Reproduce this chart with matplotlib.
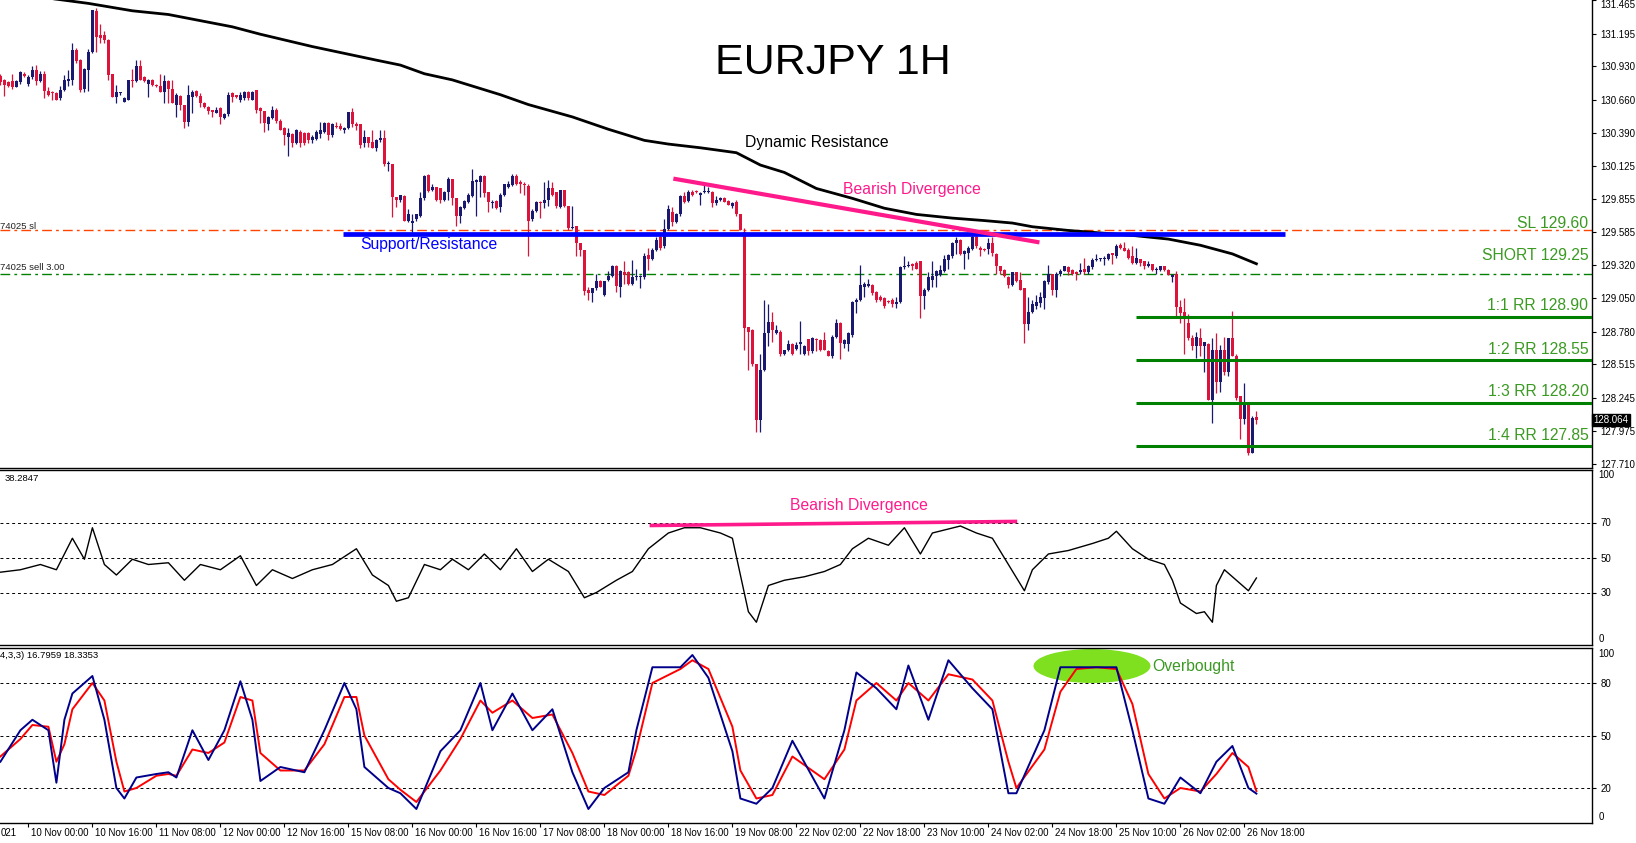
import matplotlib.pyplot as plt
import numpy as np
from matplotlib.patches import Ellipse
from matplotlib.transforms import blended_transform_factory

plt.rcParams["font.family"] = ["Liberation Sans", "DejaVu Sans"]

# Velas EURJPY H1, da barra 0 (9 Nov 17:00) ate a barra 314 (26 Nov 21:00)
abertura = [
    130.85, 130.82, 130.80, 130.81, 130.76, 130.80, 130.87, 130.79, 130.84, 130.90,
    130.81, 130.87, 130.73, 130.72, 130.71, 130.67, 130.74, 130.81, 130.82, 131.06,
    130.98, 130.75, 130.90, 131.05, 131.38, 131.18, 131.18, 131.14, 130.87, 130.68,
    130.71, 130.64, 130.66, 130.82, 130.81, 130.93, 130.84, 130.79, 130.82, 130.78,
    130.77, 130.72, 130.81, 130.75, 130.62, 130.69, 130.62, 130.48, 130.68, 130.73,
    130.69, 130.63, 130.60, 130.58, 130.55, 130.59, 130.51, 130.54, 130.71, 130.70,
    130.66, 130.67, 130.72, 130.66, 130.74, 130.59, 130.57, 130.46, 130.51, 130.58,
    130.49, 130.43, 130.36, 130.38, 130.31, 130.40, 130.39, 130.39, 130.33, 130.34,
    130.38, 130.40, 130.47, 130.37, 130.45, 130.45, 130.41, 130.43, 130.56, 130.46,
    130.46, 130.31, 130.36, 130.32, 130.27, 130.33, 130.35, 130.14, 130.14, 129.87,
    129.85, 129.88, 129.68, 129.66, 129.69, 129.72, 129.86, 130.05, 129.93, 129.95,
    129.94, 129.85, 129.91, 130.02, 129.86, 129.72, 129.78, 129.83, 129.88, 129.99,
    129.99, 130.04, 129.91, 129.82, 129.84, 129.79, 129.89, 129.95, 129.97, 130.04,
    129.99, 129.98, 129.96, 129.69, 129.76, 129.83, 129.82, 129.85, 129.94, 129.91,
    129.79, 129.93, 129.80, 129.62, 129.64, 129.50, 129.44, 129.12, 129.09, 129.13,
    129.19, 129.08, 129.20, 129.23, 129.31, 129.14, 129.26, 129.26, 129.17, 129.22,
    129.22, 129.22, 129.40, 129.37, 129.44, 129.55, 129.47, 129.61, 129.75, 129.67,
    129.73, 129.88, 129.84, 129.91, 129.92, 129.89, 129.91, 129.91, 129.91, 129.82,
    129.85, 129.86, 129.84, 129.80, 129.83, 129.73, 129.59, 128.82, 128.79, 128.52,
    128.06, 128.47, 128.77, 128.86, 128.77, 128.78, 128.60, 128.63, 128.68, 128.64,
    128.68, 128.60, 128.72, 128.62, 128.72, 128.71, 128.71, 128.62, 128.58, 128.74,
    128.85, 128.68, 128.68, 128.75, 129.02, 129.04, 129.14, 129.15, 129.16, 129.10,
    129.06, 129.05, 129.03, 129.04, 129.00, 129.02, 129.30, 129.31, 129.33, 129.34,
    129.35, 129.07, 129.12, 129.20, 129.23, 129.24, 129.27, 129.36, 129.39, 129.50,
    129.52, 129.41, 129.42, 129.45, 129.55, 129.46, 129.45, 129.45, 129.50, 129.41,
    129.31, 129.28, 129.22, 129.16, 129.26, 129.20, 129.13, 128.84, 128.94, 128.99,
    129.01, 129.05, 129.18, 129.25, 129.12, 129.25, 129.27, 129.30, 129.28, 129.26,
    129.26, 129.29, 129.26, 129.30, 129.36, 129.37, 129.37, 129.37, 129.42, 129.39,
    129.48, 129.46, 129.44, 129.39, 129.34, 129.37, 129.35, 129.31, 129.33, 129.28,
    129.28, 129.31, 129.28, 129.22, 129.25, 128.98, 128.94, 128.85, 128.73, 128.66,
    128.73, 128.66, 128.68, 128.23, 128.63, 128.37, 128.63, 128.45, 128.73, 128.58,
    128.26, 128.07, 128.21, 127.80, 128.09,
]
maxima = [
    130.87, 130.83, 130.81, 130.87, 130.82, 130.89, 130.88, 130.86, 130.93, 130.94,
    130.89, 130.89, 130.76, 130.73, 130.72, 130.77, 130.86, 130.90, 131.12, 131.08,
    130.99, 130.92, 131.07, 131.39, 131.40, 131.27, 131.22, 131.15, 130.87, 130.78,
    130.72, 130.68, 130.82, 130.91, 130.98, 130.98, 130.85, 130.83, 130.83, 130.79,
    130.87, 130.86, 130.82, 130.82, 130.71, 130.70, 130.62, 130.78, 130.74, 130.74,
    130.71, 130.64, 130.61, 130.58, 130.60, 130.60, 130.55, 130.72, 130.72, 130.70,
    130.72, 130.73, 130.73, 130.73, 130.74, 130.60, 130.57, 130.53, 130.61, 130.59,
    130.50, 130.44, 130.43, 130.39, 130.42, 130.41, 130.40, 130.40, 130.37, 130.41,
    130.48, 130.48, 130.48, 130.47, 130.48, 130.47, 130.44, 130.56, 130.59, 130.48,
    130.46, 130.41, 130.36, 130.41, 130.34, 130.41, 130.41, 130.16, 130.14, 129.87,
    129.89, 129.89, 129.77, 129.73, 129.73, 129.91, 130.05, 130.06, 129.98, 129.95,
    129.94, 129.92, 130.03, 130.02, 129.86, 129.80, 129.85, 129.90, 130.10, 130.02,
    130.05, 130.05, 129.91, 129.85, 129.85, 129.90, 129.98, 130.00, 130.06, 130.06,
    130.01, 129.99, 129.98, 129.77, 129.84, 129.84, 129.99, 130.01, 129.99, 129.91,
    129.93, 129.93, 129.80, 129.80, 129.64, 129.50, 129.44, 129.14, 129.13, 129.25,
    129.20, 129.19, 129.27, 129.32, 129.32, 129.28, 129.35, 129.27, 129.36, 129.29,
    129.24, 129.42, 129.46, 129.46, 129.55, 129.56, 129.69, 129.81, 129.79, 129.74,
    129.89, 129.91, 129.93, 129.93, 129.93, 129.91, 129.97, 129.95, 129.92, 129.88,
    129.87, 129.87, 129.85, 129.83, 129.85, 129.73, 129.62, 128.82, 128.80, 128.52,
    128.60, 129.04, 129.00, 128.94, 128.83, 128.79, 128.63, 128.71, 128.69, 128.70,
    128.87, 128.67, 128.72, 128.74, 128.73, 128.72, 128.78, 128.63, 128.75, 128.88,
    128.86, 128.72, 128.78, 129.03, 129.05, 129.32, 129.18, 129.21, 129.17, 129.11,
    129.08, 129.06, 129.04, 129.05, 129.06, 129.31, 129.39, 129.35, 129.34, 129.35,
    129.35, 129.13, 129.26, 129.35, 129.28, 129.32, 129.40, 129.41, 129.51, 129.55,
    129.53, 129.44, 129.47, 129.56, 129.56, 129.47, 129.46, 129.54, 129.55, 129.42,
    129.31, 129.29, 129.23, 129.26, 129.26, 129.26, 129.13, 129.06, 129.04, 129.08,
    129.10, 129.20, 129.32, 129.25, 129.26, 129.29, 129.31, 129.31, 129.29, 129.27,
    129.34, 129.38, 129.32, 129.38, 129.41, 129.38, 129.39, 129.42, 129.42, 129.49,
    129.50, 129.51, 129.46, 129.47, 129.46, 129.37, 129.35, 129.35, 129.33, 129.30,
    129.31, 129.31, 129.29, 129.25, 129.27, 129.04, 129.05, 128.92, 128.75, 128.78,
    128.81, 128.70, 128.69, 128.73, 128.77, 128.67, 128.74, 128.73, 128.95, 128.60,
    128.26, 128.36, 128.21, 128.10, 128.14,
]
minima = [
    130.78, 130.69, 130.76, 130.75, 130.76, 130.79, 130.84, 130.77, 130.83, 130.78,
    130.80, 130.67, 130.69, 130.66, 130.66, 130.66, 130.73, 130.77, 130.78, 130.96,
    130.72, 130.72, 130.73, 131.04, 131.05, 131.12, 131.12, 130.82, 130.68, 130.63,
    130.70, 130.64, 130.66, 130.76, 130.80, 130.82, 130.80, 130.68, 130.77, 130.76,
    130.72, 130.63, 130.63, 130.63, 130.52, 130.58, 130.43, 130.45, 130.55, 130.68,
    130.60, 130.59, 130.54, 130.52, 130.55, 130.46, 130.50, 130.53, 130.64, 130.67,
    130.64, 130.66, 130.66, 130.66, 130.55, 130.47, 130.40, 130.41, 130.50, 130.47,
    130.41, 130.29, 130.20, 130.28, 130.30, 130.28, 130.29, 130.31, 130.31, 130.33,
    130.35, 130.39, 130.33, 130.36, 130.43, 130.41, 130.39, 130.42, 130.44, 130.41,
    130.27, 130.28, 130.28, 130.27, 130.24, 130.32, 130.12, 130.08, 129.71, 129.79,
    129.83, 129.68, 129.67, 129.59, 129.68, 129.71, 129.85, 129.91, 129.92, 129.84,
    129.82, 129.84, 129.85, 129.81, 129.64, 129.66, 129.77, 129.82, 129.87, 129.72,
    129.87, 129.87, 129.75, 129.78, 129.77, 129.75, 129.88, 129.94, 129.96, 129.97,
    129.90, 129.89, 129.39, 129.68, 129.75, 129.70, 129.78, 129.80, 129.88, 129.78,
    129.78, 129.79, 129.60, 129.61, 129.39, 129.39, 129.08, 129.04, 129.02, 129.12,
    129.14, 129.07, 129.19, 129.22, 129.10, 129.06, 129.17, 129.16, 129.16, 129.20,
    129.13, 129.21, 129.28, 129.36, 129.43, 129.44, 129.46, 129.60, 129.64, 129.66,
    129.72, 129.82, 129.83, 129.88, 129.90, 129.81, 129.90, 129.90, 129.79, 129.81,
    129.84, 129.83, 129.81, 129.78, 129.72, 129.60, 128.63, 128.47, 128.50, 127.97,
    127.97, 128.46, 128.66, 128.70, 128.76, 128.58, 128.59, 128.62, 128.59, 128.63,
    128.60, 128.59, 128.59, 128.61, 128.62, 128.62, 128.63, 128.58, 128.57, 128.73,
    128.56, 128.65, 128.62, 128.74, 128.93, 129.03, 129.06, 129.14, 129.08, 129.02,
    129.03, 128.97, 129.01, 128.98, 128.97, 129.01, 129.29, 129.30, 129.28, 129.29,
    128.89, 128.96, 129.11, 129.14, 129.14, 129.23, 129.26, 129.29, 129.38, 129.41,
    129.40, 129.29, 129.37, 129.44, 129.46, 129.39, 129.43, 129.41, 129.39, 129.25,
    129.25, 129.22, 129.13, 129.15, 129.18, 129.12, 128.69, 128.79, 128.93, 128.96,
    128.98, 128.96, 129.17, 129.08, 129.06, 129.23, 129.27, 129.24, 129.24, 129.20,
    129.25, 129.25, 129.25, 129.29, 129.35, 129.35, 129.32, 129.36, 129.33, 129.38,
    129.45, 129.43, 129.37, 129.33, 129.33, 129.31, 129.29, 129.30, 129.27, 129.25,
    129.27, 129.27, 129.24, 129.18, 128.90, 128.85, 128.60, 128.71, 128.63, 128.57,
    128.58, 128.45, 128.23, 128.04, 128.28, 128.29, 128.43, 128.42, 128.58, 128.23,
    127.91, 128.03, 127.78, 127.80, 128.03,
]
fechamento = [
    130.80, 130.78, 130.77, 130.76, 130.81, 130.88, 130.85, 130.84, 130.90, 130.81,
    130.87, 130.73, 130.70, 130.71, 130.66, 130.74, 130.82, 130.83, 131.06, 130.97,
    130.74, 130.91, 131.05, 131.39, 131.17, 131.16, 131.14, 130.86, 130.68, 130.72,
    130.71, 130.67, 130.82, 130.81, 130.93, 130.82, 130.81, 130.82, 130.78, 130.77,
    130.72, 130.81, 130.75, 130.63, 130.70, 130.62, 130.48, 130.70, 130.72, 130.69,
    130.63, 130.60, 130.57, 130.56, 130.58, 130.52, 130.54, 130.70, 130.68, 130.68,
    130.70, 130.72, 130.67, 130.72, 130.58, 130.57, 130.47, 130.52, 130.58, 130.49,
    130.41, 130.37, 130.39, 130.31, 130.41, 130.31, 130.31, 130.33, 130.36, 130.40,
    130.41, 130.47, 130.37, 130.46, 130.44, 130.42, 130.43, 130.56, 130.46, 130.45,
    130.29, 130.36, 130.31, 130.27, 130.33, 130.35, 130.14, 130.15, 129.87, 129.85,
    129.89, 129.68, 129.73, 129.68, 129.73, 129.86, 130.04, 129.92, 129.95, 129.85,
    129.85, 129.91, 130.02, 129.86, 129.72, 129.79, 129.84, 129.89, 130.00, 130.01,
    130.04, 129.90, 129.83, 129.82, 129.78, 129.89, 129.98, 129.98, 130.04, 129.98,
    129.98, 129.97, 129.68, 129.76, 129.83, 129.82, 129.85, 129.94, 129.89, 129.80,
    129.93, 129.80, 129.62, 129.63, 129.50, 129.44, 129.11, 129.09, 129.13, 129.19,
    129.14, 129.19, 129.23, 129.31, 129.15, 129.27, 129.24, 129.17, 129.22, 129.23,
    129.23, 129.39, 129.37, 129.44, 129.52, 129.46, 129.61, 129.77, 129.67, 129.73,
    129.88, 129.83, 129.91, 129.89, 129.91, 129.90, 129.92, 129.92, 129.82, 129.85,
    129.86, 129.83, 129.81, 129.82, 129.73, 129.60, 128.81, 128.78, 128.52, 128.06,
    128.47, 128.77, 128.86, 128.79, 128.79, 128.60, 128.63, 128.68, 128.60, 128.67,
    128.70, 128.66, 128.62, 128.73, 128.71, 128.63, 128.63, 128.58, 128.74, 128.85,
    128.69, 128.71, 128.77, 129.02, 129.04, 129.16, 129.17, 129.17, 129.09, 129.04,
    129.04, 128.99, 129.02, 129.00, 129.02, 129.30, 129.31, 129.32, 129.31, 129.29,
    129.07, 129.12, 129.22, 129.23, 129.27, 129.28, 129.37, 129.40, 129.50, 129.52,
    129.41, 129.43, 129.46, 129.55, 129.47, 129.44, 129.44, 129.50, 129.42, 129.31,
    129.27, 129.23, 129.16, 129.26, 129.19, 129.12, 128.84, 128.94, 129.00, 129.02,
    129.06, 129.19, 129.25, 129.12, 129.25, 129.27, 129.31, 129.26, 129.25, 129.25,
    129.28, 129.26, 129.31, 129.36, 129.37, 129.37, 129.38, 129.41, 129.40, 129.47,
    129.46, 129.43, 129.38, 129.34, 129.38, 129.34, 129.31, 129.33, 129.28, 129.29,
    129.31, 129.28, 129.24, 129.24, 128.98, 128.93, 128.90, 128.73, 128.66, 128.74,
    128.66, 128.70, 128.23, 128.63, 128.37, 128.63, 128.45, 128.73, 128.58, 128.24,
    128.07, 128.21, 127.80, 128.08, 128.064,
]

# Media movel ("Dynamic Resistance"), lida em alguns pontos
mm_barras = [0, 15, 22, 33, 42, 50, 58, 65, 78, 94, 100, 106, 113, 119, 125, 132,
             143, 152, 161, 167, 175, 184, 190, 196, 204, 213, 221, 229, 238, 246,
             253, 258, 267, 275, 283, 292, 300, 308, 314]
mm_valores = [131.53, 131.47, 131.44, 131.38, 131.35, 131.30, 131.25, 131.19, 131.09,
              130.98, 130.94, 130.87, 130.82, 130.76, 130.70, 130.62, 130.52, 130.42,
              130.33, 130.30, 130.27, 130.23, 130.13, 130.07, 129.94, 129.86, 129.78,
              129.73, 129.70, 129.68, 129.66, 129.63, 129.60, 129.58, 129.56, 129.53,
              129.48, 129.41, 129.33]

# RSI(14)
rsi_barras = [0, 5, 10, 14, 18, 21, 23, 26, 29, 33, 37, 42, 46, 50, 55, 60, 64, 68, 73, 78,
              83, 89, 93, 97, 99, 102, 106, 110, 113, 117, 121, 125, 129, 133, 137, 142,
              146, 149, 154, 158, 162, 167, 171, 175, 180, 183, 185, 187, 189, 192, 196,
              201, 206, 210, 213, 217, 222, 226, 230, 233, 240, 244, 248, 252, 256, 258,
              262, 267, 273, 277, 279, 283, 287, 291, 293, 295, 299, 301, 303, 304, 306,
              309, 312, 314]
rsi_valores = [41.6, 43, 46, 43, 61, 49, 67, 46, 40, 49, 46, 47, 37, 46, 43, 51, 34, 43, 38,
               43, 46, 55, 40, 34, 25, 27, 46, 43, 49, 43, 52, 43, 55, 42, 49, 42, 27, 30,
               37, 42, 55, 64, 67, 67, 64, 61, 40, 19, 13, 34, 37, 39, 42, 46, 55, 61, 57,
               67, 52, 64, 68, 64, 61, 46, 31, 43, 52, 54, 58, 61, 65, 55, 49, 46, 37, 24,
               18, 19, 13, 34, 43, 37, 31, 38.28]

# Estocastico (14,3,3): linha principal (azul) e sinal (vermelha)
sto_barras = [0, 5, 8, 12, 14, 16, 18, 23, 26, 29, 31, 34, 39, 42, 44, 48, 52, 56, 60, 63,
              65, 70, 76, 81, 86, 89, 91, 97, 100, 104, 110, 115, 120, 123, 128, 133, 138,
              143, 147, 151, 157, 159, 163, 170, 173, 177, 183, 185, 189, 193, 198, 206,
              211, 214, 219, 224, 227, 232, 237, 243, 248, 252, 254, 261, 265, 269, 274,
              279, 283, 287, 291, 295, 300, 304, 308, 312, 314]
sto_k = [35, 53, 59, 53, 23, 59, 74, 84, 59, 20, 14, 26, 28, 29, 26, 53, 36, 53, 81, 59,
         24, 32, 29, 53, 80, 65, 32, 20, 17, 8, 41, 53, 80, 53, 74, 53, 65, 29, 8, 20,
         29, 53, 89, 89, 96, 83, 41, 14, 11, 20, 47, 14, 53, 86, 77, 65, 90, 59, 93, 77,
         65, 17, 17, 53, 89, 89, 89, 89, 53, 14, 11, 26, 17, 35, 44, 20, 16.8]
sto_d = [38, 48, 56, 55, 35, 45, 65, 80, 70, 35, 18, 20, 27, 28, 27, 42, 40, 46, 72, 70,
         40, 30, 30, 45, 72, 72, 50, 25, 19, 12, 30, 48, 70, 63, 70, 60, 62, 40, 18, 16,
         27, 42, 80, 88, 93, 88, 55, 30, 14, 16, 38, 25, 42, 70, 80, 70, 80, 70, 85, 82,
         70, 35, 20, 42, 75, 88, 89, 88, 68, 28, 14, 20, 18, 28, 40, 32, 18.3]

precos_eixo = [131.465, 131.195, 130.930, 130.660, 130.390, 130.125, 129.855, 129.585,
               129.320, 129.050, 128.780, 128.515, 128.245, 127.975, 127.710]
rotulos_tempo = ["10 Nov 00:00", "10 Nov 16:00", "11 Nov 08:00", "12 Nov 00:00",
                 "12 Nov 16:00", "15 Nov 08:00", "16 Nov 00:00", "16 Nov 16:00",
                 "17 Nov 08:00", "18 Nov 00:00", "18 Nov 16:00", "19 Nov 08:00",
                 "22 Nov 02:00", "22 Nov 18:00", "23 Nov 10:00", "24 Nov 02:00",
                 "24 Nov 18:00", "25 Nov 10:00", "26 Nov 02:00", "26 Nov 18:00"]
barras_tempo = [7 + 16 * k for k in range(len(rotulos_tempo))]

niveis_rr = [128.90, 128.55, 128.20, 127.85]
textos_rr = ["1:1 RR 128.90", "1:2 RR 128.55", "1:3 RR 128.20", "1:4 RR 127.85"]

AZUL_VELA = "#191970"
VERMELHO_VELA = "#dc143c"
ROSA = "#ff1a8c"
VERDE = "#008000"
VERDE_TXT = "#3a9a22"

W, H = 1636, 843
fig = plt.figure(figsize=(W / 100, H / 100), dpi=100)


def criar_eixo(topo, base):
    return fig.add_axes([0, 1 - base / H, 1592 / W, (base - topo) / H])


ax_p = criar_eixo(0, 468)
ax_r = criar_eixo(470, 645)
ax_s = criar_eixo(648, 823)

for ax in (ax_p, ax_r, ax_s):
    ax.set_xlim(-0.1, 397.9)
    ax.spines["left"].set_visible(False)
    for lado in ("right", "bottom", "top"):
        ax.spines[lado].set_linewidth(1.0)
    ax.yaxis.tick_right()
    ax.tick_params(axis="y", direction="out", length=3, width=0.8, pad=3,
                   labelsize=7)
    ax.set_xticks([])
ax_p.spines["top"].set_visible(False)

# ---- painel de precos ----
o = np.array(abertura)
hi = np.array(maxima)
lo = np.array(minima)
c = np.array(fechamento)
idx = np.arange(len(c))
cores = np.where(c >= o, AZUL_VELA, VERMELHO_VELA)

ax_p.vlines(idx, lo, hi, colors=cores, linewidth=0.9, zorder=3)
corpo = np.maximum(np.abs(c - o), 0.008)
ax_p.bar(idx, corpo, bottom=np.minimum(o, c), width=0.78, color=cores,
         linewidth=0, zorder=3)

ax_p.set_ylim(127.675, 131.4675)
ax_p.set_yticks(precos_eixo)
ax_p.set_yticklabels([f"{v:.3f}" for v in precos_eixo])
# o rotulo do topo fica logo abaixo da borda para nao ser cortado
ax_p.get_yticklabels()[0].set_verticalalignment("top")

ax_p.plot(mm_barras, mm_valores, color="black", lw=2.0, zorder=4)

ax_p.axhline(129.60, color="#ff4500", lw=1.0, dashes=(7, 3, 2, 3), zorder=2)
ax_p.axhline(129.25, color=VERDE, lw=1.0, dashes=(7, 3, 2, 3), zorder=2)
ax_p.hlines(129.57, 85.75, 321.25, color="#0000ff", lw=3.4, zorder=5)
ax_p.hlines(niveis_rr, 284, 397.9, color=VERDE, lw=2.2, zorder=5)
ax_p.plot([168.75, 259.25], [130.017, 129.506], color=ROSA, lw=3.0, zorder=6)

fonte_txt = 11.3
ax_p.text(208, 130.957, "EURJPY 1H", fontsize=31, ha="center", va="center")
ax_p.text(204, 130.309, "Dynamic Resistance", fontsize=fonte_txt, ha="center",
          va="center")
ax_p.text(228, 129.928, "Bearish Divergence", fontsize=fonte_txt, ha="center",
          va="center", color=ROSA)
ax_p.text(107, 129.490, "Support/Resistance", fontsize=fonte_txt, ha="center",
          va="center", color="#0000ff")
ax_p.text(397, 129.660, "SL 129.60", fontsize=fonte_txt, ha="right", va="center",
          color=VERDE_TXT)
ax_p.text(397, 129.401, "SHORT 129.25", fontsize=fonte_txt, ha="right",
          va="center", color=VERDE_TXT)
for nivel_y, texto in zip([128.988, 128.639, 128.291, 127.942], textos_rr):
    ax_p.text(397, nivel_y, texto, fontsize=fonte_txt, ha="right", va="center",
              color=VERDE_TXT)
ax_p.text(0, 129.636, "74025 sl", fontsize=6.8, ha="left", va="center",
          color="#222222")
ax_p.text(0, 129.296, "74025 sell 3.00", fontsize=6.8, ha="left", va="center",
          color="#222222")

trans = blended_transform_factory(ax_p.transAxes, ax_p.transData)
ax_p.text(1.001, fechamento[-1], f"{fechamento[-1]:.3f}", transform=trans,
          fontsize=7, color="white", ha="left", va="center",
          bbox=dict(facecolor="black", edgecolor="black", pad=1.0))

# ---- painel RSI ----
ax_r.set_ylim(0, 100)
ax_r.plot(rsi_barras, rsi_valores, color="black", lw=1.0)
for nivel in (70, 50, 30):
    ax_r.axhline(nivel, color="black", lw=0.7, dashes=(3, 3))
ax_r.set_yticks([70, 50, 30])
ax_r.plot([162.75, 253.75], [68.3, 70.6], color=ROSA, lw=2.6)
ax_r.text(214.75, 79.7, "Bearish Divergence", fontsize=fonte_txt, ha="center",
          va="center", color=ROSA)
ax_r.text(1, 95.1, "38.2847", fontsize=6.8, ha="left", va="center")
tr_r = blended_transform_factory(ax_r.transAxes, ax_r.transData)
ax_r.text(1.004, 96.9, "100", transform=tr_r, fontsize=7, va="center")
ax_r.text(1.004, 3.7, "0", transform=tr_r, fontsize=7, va="center")

# ---- painel estocastico ----
ax_s.set_ylim(0, 100)
ax_s.add_patch(Ellipse((272.9, 89.7), 29.25, 19.4, facecolor="#7ee01e",
                       edgecolor="none", zorder=1))
ax_s.plot(sto_barras, sto_d, color="#ff0000", lw=1.4, zorder=3)
ax_s.plot(sto_barras, sto_k, color="#00008b", lw=1.4, zorder=4)
for nivel in (80, 50, 20):
    ax_s.axhline(nivel, color="black", lw=0.7, dashes=(3, 3), zorder=2)
ax_s.set_yticks([80, 50, 20])
ax_s.text(288, 89.7, "Overbought", fontsize=fonte_txt, ha="left", va="center",
          color=VERDE_TXT)
ax_s.text(0, 96.0, "4,3,3) 16.7959 18.3353", fontsize=6.8, ha="left",
          va="center")
tr_s = blended_transform_factory(ax_s.transAxes, ax_s.transData)
ax_s.text(1.004, 96.6, "100", transform=tr_s, fontsize=7, va="center")
ax_s.text(1.004, 3.4, "0", transform=tr_s, fontsize=7, va="center")

# eixo de tempo
ax_s.set_xticks(barras_tempo)
ax_s.set_xticklabels([])
ax_s.tick_params(axis="x", direction="out", length=3, width=0.8)
tr_t = blended_transform_factory(ax_s.transData, ax_s.transAxes)
for b, rot in zip(barras_tempo, rotulos_tempo):
    ax_s.text(b + 0.7, -0.057, rot, transform=tr_t, fontsize=7, ha="left",
              va="center")
# o primeiro rotulo aparece cortado na borda esquerda
fig.text(1 / W, 1 - 833 / H, "021", fontsize=7, ha="left", va="center")

fig.savefig("out.png", dpi=100)
plt.close(fig)
